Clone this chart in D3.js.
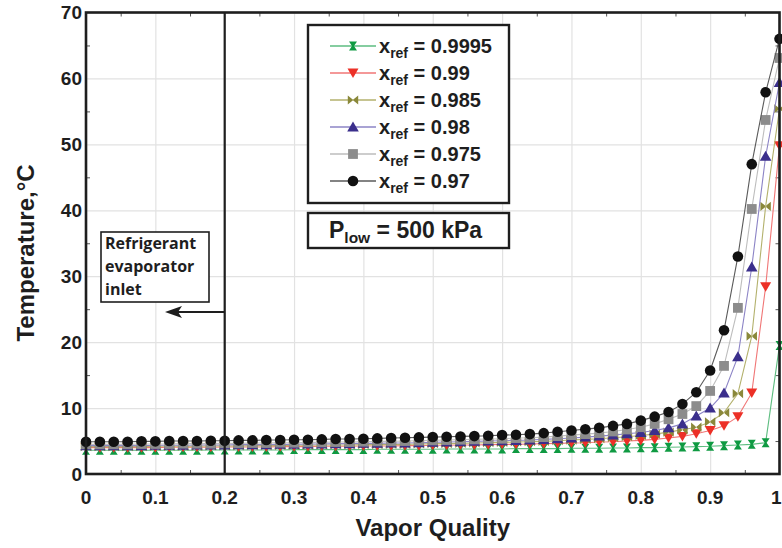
<!DOCTYPE html>
<html>
<head>
<meta charset="utf-8">
<script src="https://cdn.jsdelivr.net/npm/d3@7"></script>
<style>
  body { margin: 0; background: #fff; }
  svg { display: block; font-family: "Liberation Sans", Arial, sans-serif; }
</style>
</head>
<body>
<div id="main"></div>
<script>
// data (vapor quality vs temperature in °C)
const quality = [0, 0.02, 0.04, 0.06, 0.08, 0.1, 0.12, 0.14, 0.16, 0.18,
  0.2, 0.22, 0.24, 0.26, 0.28, 0.3, 0.32, 0.34, 0.36, 0.38,
  0.4, 0.42, 0.44, 0.46, 0.48, 0.5, 0.52, 0.54, 0.56, 0.58,
  0.6, 0.62, 0.64, 0.66, 0.68, 0.7, 0.72, 0.74, 0.76, 0.78,
  0.8, 0.82, 0.84, 0.86, 0.88, 0.9, 0.92, 0.94, 0.96, 0.98, 1];

const temp9995 = [3.6, 3.6, 3.6, 3.6, 3.6, 3.6, 3.6, 3.6, 3.6, 3.65,
  3.65, 3.65, 3.65, 3.65, 3.65, 3.7, 3.7, 3.7, 3.7, 3.7,
  3.7, 3.75, 3.75, 3.75, 3.75, 3.75, 3.8, 3.8, 3.8, 3.8,
  3.8, 3.85, 3.85, 3.85, 3.85, 3.9, 3.9, 3.9, 3.95, 3.95,
  4.0, 4.0, 4.05, 4.1, 4.15, 4.2, 4.3, 4.4, 4.5, 4.75, 19.5];
const temp99 = [4.0, 4.0, 4.0, 4.0, 4.0, 4.0, 4.05, 4.05, 4.05, 4.05,
  4.1, 4.1, 4.1, 4.1, 4.15, 4.15, 4.15, 4.2, 4.2, 4.2,
  4.25, 4.25, 4.25, 4.3, 4.3, 4.35, 4.35, 4.4, 4.4, 4.45,
  4.5, 4.5, 4.55, 4.6, 4.65, 4.7, 4.75, 4.85, 4.9, 5.0,
  5.1, 5.25, 5.45, 5.7, 6.1, 6.6, 7.3, 8.7, 12.3, 28.4, 49.8];
const temp985 = [4.15, 4.15, 4.15, 4.15, 4.15, 4.2, 4.2, 4.2, 4.2, 4.25,
  4.25, 4.25, 4.3, 4.3, 4.3, 4.35, 4.35, 4.4, 4.4, 4.4,
  4.45, 4.45, 4.5, 4.5, 4.55, 4.6, 4.6, 4.65, 4.7, 4.75,
  4.8, 4.85, 4.9, 4.95, 5.05, 5.15, 5.25, 5.35, 5.5, 5.65,
  5.85, 6.05, 6.35, 6.7, 7.1, 7.9, 9.3, 12.2, 20.9, 40.6, 55.4];
const temp98 = [4.3, 4.3, 4.3, 4.3, 4.3, 4.35, 4.35, 4.35, 4.4, 4.4,
  4.4, 4.45, 4.45, 4.45, 4.5, 4.5, 4.55, 4.55, 4.6, 4.6,
  4.65, 4.65, 4.7, 4.7, 4.75, 4.8, 4.85, 4.9, 4.95, 5.0,
  5.05, 5.1, 5.15, 5.25, 5.35, 5.45, 5.6, 5.75, 5.9, 6.1,
  6.3, 6.6, 7.0, 7.6, 8.8, 10.0, 12.3, 17.8, 31.4, 48.2, 59.4];
const temp975 = [4.5, 4.5, 4.5, 4.5, 4.55, 4.55, 4.55, 4.6, 4.6, 4.6,
  4.65, 4.65, 4.7, 4.7, 4.75, 4.75, 4.8, 4.8, 4.85, 4.85,
  4.9, 4.95, 4.95, 5.0, 5.05, 5.1, 5.15, 5.2, 5.25, 5.3,
  5.35, 5.45, 5.5, 5.6, 5.75, 5.9, 6.05, 6.2, 6.45, 6.75,
  7.1, 7.6, 8.3, 9.1, 10.3, 12.6, 16.4, 25.2, 40.2, 53.7, 63.1];
const temp97 = [4.9, 4.9, 4.9, 4.9, 4.95, 4.95, 5.0, 5.0, 5.0, 5.05,
  5.05, 5.1, 5.1, 5.15, 5.15, 5.2, 5.2, 5.25, 5.3, 5.3,
  5.35, 5.4, 5.45, 5.5, 5.55, 5.6, 5.65, 5.7, 5.75, 5.8,
  5.9, 5.95, 6.05, 6.2, 6.4, 6.6, 6.8, 7.0, 7.3, 7.6,
  8.1, 8.7, 9.4, 10.6, 12.4, 15.7, 21.8, 33.0, 47.0, 57.9, 66.0];

const refLabels = ['0.9995', '0.99', '0.985', '0.98', '0.975', '0.97'];

const xTicks = [0, 0.1, 0.2, 0.3, 0.4, 0.5, 0.6, 0.7, 0.8, 0.9, 1];
const xTickLabels = ['0', '0.1', '0.2', '0.3', '0.4', '0.5', '0.6', '0.7', '0.8', '0.9', '1'];
const xMinorTicks = [0.05, 0.15, 0.25, 0.35, 0.45, 0.55, 0.65, 0.75, 0.85, 0.95];
const yTicks = [0, 10, 20, 30, 40, 50, 60, 70];
const yMinorTicks = [5, 15, 25, 35, 45, 55, 65];

const inletQuality = 0.2;
const pressureText = '500 kPa';

// styling per series (same order as refLabels)
const seriesTemps = [temp9995, temp99, temp985, temp98, temp975, temp97];
const markerColors = ['#0f9a42', '#ec3027', '#8a883a', '#3b2f8c', '#8c8c8c', '#111111'];
const lineColors = ['#5dbd80', '#f07676', '#b3b16c', '#8c84c6', '#bdbdbd', '#5a5a5a'];
const markerShapes = [
  'M-4,-4.5H4L1,0L4,4.5H-4L-1,0Z',                       // hourglass
  'M-5.5,-4.5H5.5L0,5Z',                                  // down triangle
  'M-5.2,-4.6L-0.6,-0.8V0.8L-5.2,4.6Z M5.2,-4.6L0.6,-0.8V0.8L5.2,4.6Z', // bowtie
  'M0,-5.5L5.8,4.5H-5.8Z',                                // up triangle
  'M-4.9,-4.9H4.9V4.9H-4.9Z',                             // square
  d3.symbol(d3.symbolCircle, 88)()                        // circle
];

const width = 782, height = 548;
const margin = { left: 86, right: 2.5, top: 12.5, bottom: 74 };
const innerW = width - margin.left - margin.right;
const innerH = height - margin.top - margin.bottom;
const ink = '#1e1e1e';

const svg = d3.select('#main').append('svg')
  .attr('width', width)
  .attr('height', height);

const xScale = d3.scaleLinear().domain([0, 1]).range([margin.left, margin.left + innerW]);
const yScale = d3.scaleLinear().domain([0, 70]).range([margin.top + innerH, margin.top]);

// grid
svg.append('g')
  .attr('transform', `translate(0, ${margin.top + innerH})`)
  .call(d3.axisBottom(xScale).tickValues(xTicks).tickSize(-innerH).tickFormat(''))
  .call(g => g.select('.domain').remove())
  .call(g => g.selectAll('line').attr('stroke', '#e2e2e2').attr('stroke-width', 1.2));
svg.append('g')
  .attr('transform', `translate(${margin.left}, 0)`)
  .call(d3.axisLeft(yScale).tickValues(yTicks).tickSize(-innerW).tickFormat(''))
  .call(g => g.select('.domain').remove())
  .call(g => g.selectAll('line').attr('stroke', '#e2e2e2').attr('stroke-width', 1.2));

// minor ticks on all four sides, pointing inward
const minorLen = 4;
const minor = svg.append('g');
minor.append('g')
  .attr('transform', `translate(0, ${margin.top + innerH})`)
  .call(d3.axisBottom(xScale).tickValues(xMinorTicks).tickSize(-minorLen).tickFormat(''));
minor.append('g')
  .attr('transform', `translate(0, ${margin.top})`)
  .call(d3.axisTop(xScale).tickValues(xMinorTicks).tickSize(-minorLen).tickFormat(''));
minor.append('g')
  .attr('transform', `translate(${margin.left}, 0)`)
  .call(d3.axisLeft(yScale).tickValues(yMinorTicks).tickSize(-minorLen).tickFormat(''));
minor.append('g')
  .attr('transform', `translate(${margin.left + innerW}, 0)`)
  .call(d3.axisRight(yScale).tickValues(yMinorTicks).tickSize(-minorLen).tickFormat(''));
minor.selectAll('.tick line').attr('stroke', '#555').attr('stroke-width', 1);
minor.selectAll('.domain').attr('stroke', 'none');

// series
const line = d3.line()
  .x((d) => xScale(d[0]))
  .y((d) => yScale(d[1]));

seriesTemps.forEach((temps, i) => {
  const pts = quality.map((q, k) => [q, temps[k]]);
  const g = svg.append('g');
  g.append('path')
    .attr('d', line(pts))
    .attr('fill', 'none')
    .attr('stroke', lineColors[i])
    .attr('stroke-width', 1.1);
  g.selectAll('path.mk')
    .data(pts)
    .enter()
    .append('path')
    .attr('class', 'mk')
    .attr('d', markerShapes[i])
    .attr('fill', markerColors[i])
    .attr('transform', (d) => `translate(${xScale(d[0])}, ${yScale(d[1])})`);
});

// evaporator inlet line
svg.append('line')
  .attr('x1', xScale(inletQuality)).attr('x2', xScale(inletQuality))
  .attr('y1', yScale(0)).attr('y2', yScale(70))
  .attr('stroke', ink).attr('stroke-width', 2.2);

// plot frame
svg.append('rect')
  .attr('x', margin.left).attr('y', margin.top)
  .attr('width', innerW).attr('height', innerH)
  .attr('fill', 'none').attr('stroke', ink).attr('stroke-width', 2.6);

// tick labels (last one kept inside the page edge)
svg.append('g').selectAll('text')
  .data(xTicks)
  .enter()
  .append('text')
  .attr('x', (d, i) => (i === xTicks.length - 1 ? width - 0.5 : xScale(d)))
  .attr('y', 503.5)
  .attr('text-anchor', (d, i) => (i === xTicks.length - 1 ? 'end' : 'middle'))
  .attr('font-size', 19)
  .attr('font-weight', 'bold')
  .attr('fill', ink)
  .text((d, i) => xTickLabels[i]);
svg.append('g').selectAll('text')
  .data(yTicks)
  .enter()
  .append('text')
  .attr('x', 82)
  .attr('y', (d) => yScale(d))
  .attr('dy', '0.36em')
  .attr('text-anchor', 'end')
  .attr('font-size', 19)
  .attr('font-weight', 'bold')
  .attr('fill', ink)
  .text((d) => d);

// axis titles
svg.append('text')
  .attr('x', xScale(0.5)).attr('y', 536)
  .attr('text-anchor', 'middle')
  .attr('font-size', 24).attr('font-weight', 'bold').attr('fill', ink)
  .text('Vapor Quality');
svg.append('text')
  .attr('transform', 'translate(33.5, 253) rotate(-90)')
  .attr('text-anchor', 'middle')
  .attr('font-size', 24).attr('font-weight', 'bold').attr('fill', ink)
  .text('Temperature,°C');

// legend
const legend = svg.append('g');
legend.append('rect')
  .attr('x', 308).attr('y', 25).attr('width', 201).attr('height', 178)
  .attr('fill', '#fff').attr('stroke', ink).attr('stroke-width', 2.4);
refLabels.forEach((lab, i) => {
  const cy = 46 + i * 27;
  legend.append('line')
    .attr('x1', 330).attr('x2', 376).attr('y1', cy).attr('y2', cy)
    .attr('stroke', lineColors[i]).attr('stroke-width', 1.3);
  legend.append('path')
    .attr('d', markerShapes[i])
    .attr('fill', markerColors[i])
    .attr('transform', `translate(353, ${cy})`);
  const t = legend.append('text')
    .attr('x', 379).attr('y', cy + 7)
    .attr('font-weight', 'bold').attr('fill', ink);
  t.append('tspan').attr('font-size', 20).text('x');
  t.append('tspan').attr('font-size', 14).attr('dy', 5).text('ref');
  t.append('tspan').attr('font-size', 20).attr('dy', -5).text(` = ${lab}`);
});

// pressure box
svg.append('rect')
  .attr('x', 308).attr('y', 213).attr('width', 201).attr('height', 35)
  .attr('fill', '#fff').attr('stroke', ink).attr('stroke-width', 2.4);
const pt = svg.append('text')
  .attr('x', 329).attr('y', 237.5)
  .attr('font-weight', 'bold').attr('fill', ink);
pt.append('tspan').attr('font-size', 23).text('P');
pt.append('tspan').attr('font-size', 15.5).attr('dy', 5).text('low');
pt.append('tspan').attr('font-size', 23).attr('dy', -5).text(` = ${pressureText}`);

// inlet annotation
svg.append('rect')
  .attr('x', 101).attr('y', 232).attr('width', 108).attr('height', 70)
  .attr('fill', '#fff').attr('stroke', ink).attr('stroke-width', 1.6);
const noteLines = ['Refrigerant', 'evaporator', 'inlet'];
svg.append('g').selectAll('text')
  .data(noteLines)
  .enter()
  .append('text')
  .attr('x', 105)
  .attr('y', (d, i) => 249 + i * 23)
  .attr('font-family', '"Open Sans", "Noto Sans", sans-serif')
  .attr('font-size', 16)
  .attr('font-weight', 'bold')
  .attr('fill', ink)
  .text((d) => d);

// arrow pointing back from the inlet line
const arrowY = 312;
svg.append('line')
  .attr('x1', xScale(inletQuality)).attr('x2', 176)
  .attr('y1', arrowY).attr('y2', arrowY)
  .attr('stroke', ink).attr('stroke-width', 2);
svg.append('path')
  .attr('d', `M165,${arrowY}L182,${arrowY - 6}L178,${arrowY}L182,${arrowY + 6}Z`)
  .attr('fill', ink);
</script>
</body>
</html>
